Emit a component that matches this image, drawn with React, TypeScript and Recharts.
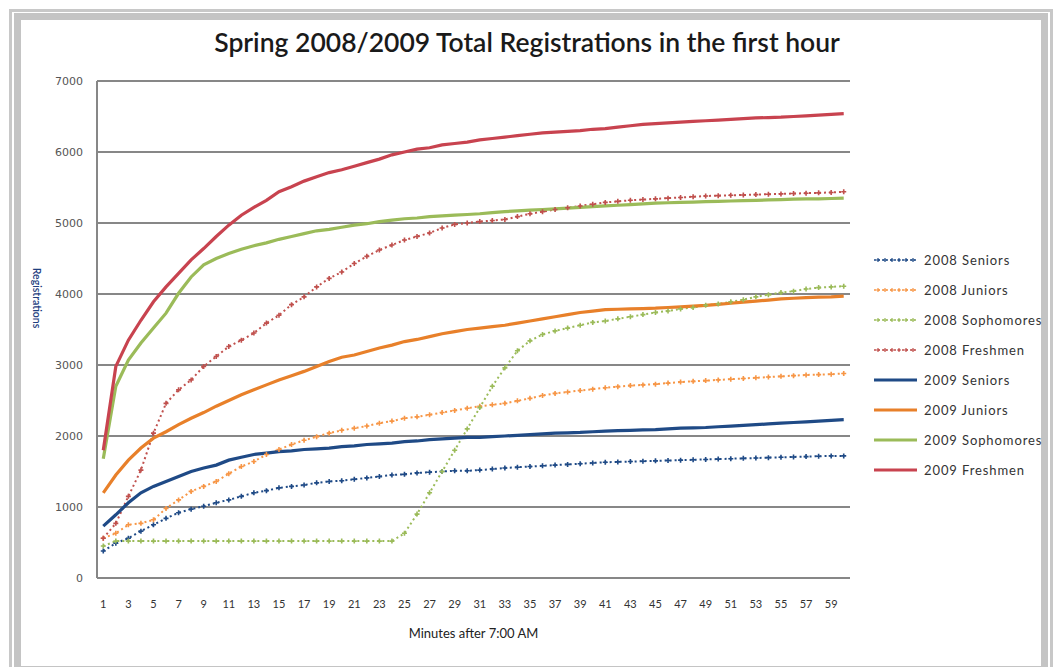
import React from "react";
import { CartesianGrid, Legend, Line, LineChart, XAxis, YAxis } from "recharts";

const minutes = [
  1, 2, 3, 4, 5, 6, 7, 8, 9, 10, 11, 12, 13, 14, 15, 16, 17, 18, 19, 20,
  21, 22, 23, 24, 25, 26, 27, 28, 29, 30, 31, 32, 33, 34, 35, 36, 37, 38, 39, 40,
  41, 42, 43, 44, 45, 46, 47, 48, 49, 50, 51, 52, 53, 54, 55, 56, 57, 58, 59, 60,
];
const xTicks = [1, 3, 5, 7, 9, 11, 13, 15, 17, 19, 21, 23, 25, 27, 29, 31, 33, 35, 37, 39, 41, 43, 45, 47, 49, 51, 53, 55, 57, 59];
const yTicks = [0, 1000, 2000, 3000, 4000, 5000, 6000, 7000];

const seniors2008 = [
  380, 490, 560, 660, 750, 840, 920, 970, 1010, 1060, 1100, 1150, 1200, 1230, 1270, 1290, 1310, 1340, 1360, 1370,
  1390, 1410, 1430, 1450, 1460, 1480, 1490, 1500, 1510, 1510, 1520, 1535, 1550, 1560, 1570, 1580, 1590, 1600, 1610, 1620,
  1630, 1635, 1640, 1645, 1650, 1655, 1660, 1665, 1670, 1675, 1680, 1685, 1690, 1695, 1700, 1705, 1710, 1715, 1720, 1720,
];
const juniors2008 = [
  560, 630, 750, 770, 820, 980, 1100, 1220, 1290, 1360, 1470, 1570, 1640, 1740, 1810, 1880, 1940, 1990, 2040, 2080,
  2110, 2140, 2180, 2210, 2250, 2270, 2300, 2330, 2360, 2390, 2420, 2440, 2460, 2495, 2530, 2570, 2600, 2620, 2640, 2660,
  2680, 2695, 2710, 2720, 2730, 2745, 2760, 2770, 2780, 2790, 2800, 2810, 2820, 2830, 2840, 2850, 2860, 2865, 2870, 2880,
];
const sophomores2008 = [
  450, 520, 520, 520, 520, 520, 520, 520, 520, 520, 520, 520, 520, 520, 520, 520, 520, 520, 520, 520,
  520, 520, 520, 520, 630, 900, 1200, 1500, 1800, 2100, 2400, 2700, 2960, 3200, 3340, 3430, 3480, 3520, 3560, 3600,
  3620, 3650, 3680, 3710, 3740, 3760, 3790, 3810, 3840, 3860, 3890, 3920, 3960, 3990, 4020, 4040, 4070, 4090, 4100, 4110,
];
const freshmen2008 = [
  560, 770, 1150, 1520, 2040, 2460, 2650, 2790, 2980, 3120, 3260, 3350, 3450, 3590, 3700, 3850, 3960, 4100, 4220, 4310,
  4430, 4530, 4620, 4690, 4760, 4810, 4860, 4930, 4980, 5000, 5020, 5035, 5050, 5090, 5130, 5160, 5190, 5215, 5240, 5265,
  5290, 5305, 5320, 5330, 5340, 5350, 5360, 5370, 5380, 5385, 5390, 5395, 5400, 5405, 5410, 5415, 5420, 5425, 5430, 5440,
];
const seniors2009 = [
  730, 890, 1060, 1200, 1290, 1360, 1430, 1500, 1550, 1590, 1660, 1700, 1740, 1760, 1780, 1790, 1810, 1820, 1830, 1850,
  1860, 1880, 1890, 1900, 1920, 1930, 1950, 1960, 1970, 1980, 1980, 1990, 2000, 2010, 2020, 2030, 2040, 2045, 2050, 2060,
  2070, 2075, 2080, 2085, 2090, 2100, 2110, 2115, 2120, 2130, 2140, 2150, 2160, 2170, 2180, 2190, 2200, 2210, 2220, 2230,
];
const juniors2009 = [
  1200, 1450, 1660, 1830, 1970, 2060, 2160, 2250, 2330, 2420, 2500, 2580, 2650, 2720, 2790, 2850, 2910, 2980, 3050, 3110,
  3140, 3190, 3240, 3280, 3330, 3360, 3400, 3440, 3470, 3500, 3520, 3540, 3560, 3590, 3620, 3650, 3680, 3710, 3740, 3760,
  3780, 3785, 3790, 3795, 3800, 3810, 3820, 3830, 3840, 3855, 3870, 3885, 3900, 3915, 3930, 3940, 3950, 3955, 3960, 3970,
];
const sophomores2009 = [
  1680, 2700, 3070, 3310, 3520, 3730, 4010, 4240, 4410, 4500, 4570, 4630, 4680, 4720, 4770, 4810, 4850, 4890, 4910, 4940,
  4970, 4990, 5020, 5040, 5060, 5070, 5090, 5100, 5110, 5120, 5130, 5145, 5160, 5170, 5180, 5190, 5200, 5210, 5220, 5230,
  5240, 5250, 5260, 5270, 5280, 5285, 5290, 5295, 5300, 5305, 5310, 5315, 5320, 5325, 5330, 5335, 5340, 5340, 5345, 5350,
];
const freshmen2009 = [
  1800, 2980, 3350, 3630, 3890, 4100, 4290, 4480, 4640, 4810, 4970, 5110, 5220, 5320, 5440, 5510, 5590, 5650, 5710, 5750,
  5800, 5850, 5900, 5960, 6000, 6040, 6060, 6100, 6120, 6140, 6170, 6190, 6210, 6230, 6250, 6270, 6280, 6290, 6300, 6320,
  6330, 6350, 6370, 6390, 6400, 6410, 6420, 6430, 6440, 6450, 6460, 6470, 6480, 6485, 6490, 6500, 6510, 6520, 6530, 6540,
];

const series = [
  { key: "sen08", name: "2008 Seniors", color: "#1F4A86", dotted: true, values: seniors2008 },
  { key: "jun08", name: "2008 Juniors", color: "#F79646", dotted: true, values: juniors2008 },
  { key: "sop08", name: "2008 Sophomores", color: "#9BBB59", dotted: true, values: sophomores2008 },
  { key: "fre08", name: "2008 Freshmen", color: "#C0504D", dotted: true, values: freshmen2008 },
  { key: "sen09", name: "2009 Seniors", color: "#1F4A86", dotted: false, values: seniors2009 },
  { key: "jun09", name: "2009 Juniors", color: "#E8802A", dotted: false, values: juniors2009 },
  { key: "sop09", name: "2009 Sophomores", color: "#9BBB59", dotted: false, values: sophomores2009 },
  { key: "fre09", name: "2009 Freshmen", color: "#C8434F", dotted: false, values: freshmen2009 },
];

const data = minutes.map((m, i) => {
  const row: Record<string, number> = { minute: m };
  series.forEach((s) => (row[s.key] = s.values[i]));
  return row;
});

const uiFont = "Lato, 'Open Sans', sans-serif";

function CrossDot(props: any) {
  const { cx, cy, stroke, index } = props;
  if (cx == null || cy == null) return <g key={`x-${index}`} />;
  return (
    <path
      key={`x-${index}`}
      d={`M${cx - 2.5},${cy}h5M${cx},${cy - 2.5}v5`}
      stroke={stroke}
      strokeWidth={1.6}
      fill="none"
    />
  );
}

function LegendBox() {
  return (
    <div style={{ fontFamily: uiFont, fontSize: 13, color: "#333", letterSpacing: 0.9 }}>
      {series.map((s) => (
        <div key={s.key} style={{ height: 30, display: "flex", alignItems: "center" }}>
          <svg width={48} height={10} style={{ marginRight: 4 }}>
            {s.dotted ? (
              <g stroke={s.color}>
                <line x1={2} y1={5} x2={45} y2={5} strokeWidth={1.6} strokeDasharray="2 2" />
                {[6, 13, 20, 27, 34, 41].map((x) => (
                  <path key={x} d={`M${x - 2},5h4M${x},3v4`} strokeWidth={1.2} />
                ))}
              </g>
            ) : (
              <line x1={2} y1={5} x2={45} y2={5} stroke={s.color} strokeWidth={3} />
            )}
          </svg>
          <span>{s.name}</span>
        </div>
      ))}
    </div>
  );
}

export default function App() {
  return (
    <div style={{ position: "absolute", left: 0, top: 0, width: 1055, height: 667, background: "#fff", overflow: "hidden" }}>
      <div style={{ position: "absolute", left: 9, top: 9, width: 1044, height: 670, border: "3px solid #c8c8c8", boxSizing: "border-box" }} />
      <div style={{ position: "absolute", left: 14, top: 13, width: 1034, height: 660, border: "7px solid #c4c4c4", boxSizing: "border-box" }} />
      <div
        style={{
          position: "absolute",
          left: 97,
          width: 860,
          top: 26,
          textAlign: "center",
          fontFamily: uiFont,
          fontWeight: 600,
          fontSize: 26.5,
          color: "#1a1a1a",
        }}
      >
        Spring 2008/2009 Total Registrations in the first hour
      </div>
      <div
        style={{
          position: "absolute",
          left: 37,
          top: 298,
          transform: "translate(-50%, -50%) rotate(90deg)",
          fontFamily: uiFont,
          fontSize: 10.5,
          fontWeight: 600,
          color: "#1F3F7F",
          whiteSpace: "nowrap",
        }}
      >
        Registrations
      </div>
      <div
        style={{
          position: "absolute",
          left: 97,
          width: 753,
          top: 625,
          textAlign: "center",
          fontFamily: uiFont,
          fontSize: 13,
          color: "#222",
        }}
      >
        Minutes after 7:00 AM
      </div>
      <div style={{ position: "absolute", left: 0, top: 0 }}>
        <LineChart width={1055} height={667} data={data} margin={{ top: 81, right: 205, left: 0, bottom: 59 }}>
          <CartesianGrid vertical={false} stroke="#878787" strokeWidth={2} />
          <XAxis
            dataKey="minute"
            type="number"
            domain={[0.5, 60.5]}
            ticks={xTicks}
            interval={0}
            height={30}
            axisLine={false}
            tickLine={false}
            tickSize={0}
            tickMargin={22}
            tick={{ fontFamily: uiFont, fontSize: 11, fill: "#333" }}
          />
          <YAxis
            domain={[0, 7000]}
            ticks={yTicks}
            width={97}
            interval={0}
            axisLine={{ stroke: "#878787", strokeWidth: 2 }}
            tickLine={false}
            tickSize={0}
            tickMargin={14}
            tick={{ fontFamily: "'DejaVu Sans', sans-serif", fontSize: 11, fill: "#555" }}
          />
          <Legend
            layout="vertical"
            align="center"
            verticalAlign="middle"
            wrapperStyle={{ left: 872, top: 245, width: 180 }}
            content={() => <LegendBox />}
          />
          {series.map((s) =>
            s.dotted ? (
              <Line
                key={s.key}
                dataKey={s.key}
                name={s.name}
                type="linear"
                stroke={s.color}
                strokeWidth={2}
                strokeDasharray="2 3"
                dot={CrossDot}
                activeDot={false}
                isAnimationActive={false}
              />
            ) : (
              <Line
                key={s.key}
                dataKey={s.key}
                name={s.name}
                type="linear"
                stroke={s.color}
                strokeWidth={3.2}
                dot={false}
                activeDot={false}
                isAnimationActive={false}
              />
            )
          )}
        </LineChart>
      </div>
    </div>
  );
}
